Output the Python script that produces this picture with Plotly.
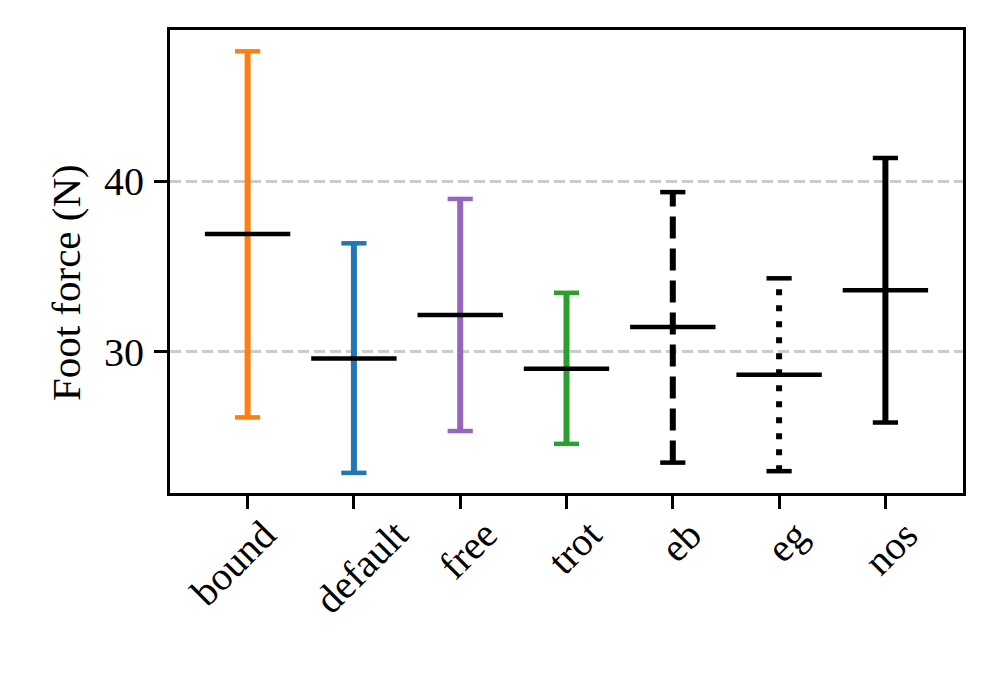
import plotly.graph_objects as go

# gait names and foot force stats (N)
gaits = ['bound', 'default', 'free', 'trot', 'eb', 'eg', 'nos']
means = [36.9, 29.6, 32.15, 29.0, 31.45, 28.65, 33.6]
lows = [26.15, 22.9, 25.35, 24.6, 23.5, 23.0, 25.85]
highs = [47.6, 36.35, 38.95, 33.45, 39.35, 34.3, 41.35]

colors = ['#ff7f0e', '#1f77b4', '#9467bd', '#2ca02c', 'black', 'black', 'black']
dashes = ['solid', 'solid', 'solid', 'solid', '22px,10px', '6px,10px', 'solid']
# small horizontal nudges of the rotated labels (px)
label_dx = [-15, 8, 8, 8, 8, 8, 6]

fig = go.Figure()

# vertical ranges
for g, lo, hi, c, d in zip(gaits, lows, highs, colors, dashes):
    fig.add_trace(go.Scatter(x=[g, g], y=[lo, hi], mode='lines',
                             line=dict(color=c, width=6, dash=d),
                             hoverinfo='skip'))

# caps top and bottom
fig.add_trace(go.Scatter(x=gaits + gaits, y=lows + highs, mode='markers',
                         marker=dict(symbol='line-ew', size=18,
                                     line=dict(color=colors + colors, width=4.5)),
                         hoverinfo='skip'))

# mean lines
fig.add_trace(go.Scatter(x=gaits, y=means, mode='markers',
                         marker=dict(symbol='line-ew', size=61,
                                     line=dict(color='black', width=4.5)),
                         hoverinfo='skip'))

# rotated x labels, centred under the ticks like matplotlib does
for g, dx in zip(gaits, label_dx):
    fig.add_annotation(x=g, y=0, xref='x', yref='paper', text=g, showarrow=False,
                       textangle=-45, xanchor='center', yanchor='top',
                       xshift=dx, yshift=-16)

# y axis label
fig.add_annotation(x=-0.131, y=0.4536, xref='paper', yref='paper',
                   text='Foot force (N)', showarrow=False, textangle=-90,
                   xanchor='center', yanchor='middle', font=dict(size=41))

fig.update_layout(
    width=978, height=671,
    margin=dict(l=162, r=23, t=22, b=186),
    paper_bgcolor='white', plot_bgcolor='white',
    showlegend=False,
    font=dict(family='Liberation Serif', size=40, color='black'),
)
fig.update_xaxes(type='category', range=[-0.73, 6.73], showticklabels=False,
                 showline=True, mirror=True, linecolor='black', linewidth=3,
                 ticks='outside', ticklen=13, tickwidth=3, tickcolor='black',
                 showgrid=False, zeroline=False)
fig.update_yaxes(range=[21.72, 48.85], tickvals=[30, 40],
                 showline=True, mirror=True, linecolor='black', linewidth=3,
                 ticks='outside', ticklen=13, tickwidth=3, tickcolor='black',
                 ticklabelstandoff=2,
                 showgrid=True, gridcolor='#cccccc', gridwidth=2.5, griddash='11px,5px',
                 zeroline=False)

fig.write_html("out.html")
